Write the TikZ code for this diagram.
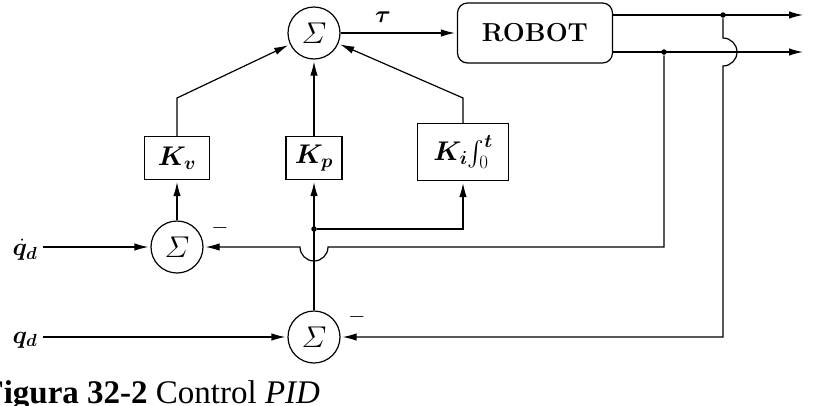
\documentclass[tikz,border=0pt]{standalone}
\usepackage{fix-cm}
\usepackage{amsmath,bm}
\usepackage{fontspec}
\newfontfamily\capfont{Liberation Serif}
\usetikzlibrary{arrows.meta}

\begin{document}
\begin{tikzpicture}[x=1pt, y=-1pt, line width=1.2pt,
    sum/.style={draw, circle, minimum size=52pt, inner sep=0pt, font=\fontsize{30}{32}\selectfont},
    gain/.style={draw, rectangle, inner sep=0pt, font=\fontsize{27}{30}\selectfont},
    sig/.style={-{Latex[length=14pt,width=7.5pt]}, shorten >=2pt},
    dot/.style={circle, fill, inner sep=0pt, minimum size=5.5pt},
    lbl/.style={font=\fontsize{25}{28}\selectfont, inner sep=0pt}]
        \useasboundingbox (0,0) rectangle (815,405);

        % Summing junctions
        \node[sum] (sT) at (314,33) {$\varSigma$};
        \node[sum] (sV) at (177,247) {$\varSigma$};
        \node[sum] (sP) at (314,337) {$\varSigma$};

        % Plant
        \node[draw, rounded corners=10pt, minimum width=155pt, minimum height=60pt,
              font=\fontsize{26}{30}\selectfont\bfseries] (robot) at (535,33) {ROBOT};

        % Gains
        \node[gain, minimum width=65pt, minimum height=43pt] (kv) at (177,158) {$\bm{K_v}$};
        \node[gain, minimum width=56pt, minimum height=43pt] (kp) at (314,158) {$\bm{K_p}$};
        \node[gain, minimum width=91pt, minimum height=57pt] (ki) at (463,152) {$\bm{K_i}\!\int_0^{\bm t}$};

        % Inputs
        \node[lbl] (lqd) at (25,250) {$\bm{\dot q_d}$};
        \node[lbl] (lq) at (25,340) {$\bm{q_d}$};

        % Branch points and bends
        \node[dot] (nq) at (723,15) {};
        \node[dot] (nqd) at (664,52) {};
        \node[dot] (np) at (314,229) {};
        \coordinate (bv) at (177,98);
        \coordinate (bi) at (463,98);
        \coordinate (jv) at (314,247);
        \coordinate (jq) at (723,52);
        \coordinate (fv) at (664,247);
        \coordinate (fp) at (723,337);
        \coordinate (outq) at (805,15);
        \coordinate (outqd) at (805,52);

        % Forward path
        \draw[sig] (sT) -- (robot);
        \node[font=\fontsize{24}{26}\selectfont] (tau) at (383,17) {$\bm{\tau}$};
        \draw[sig] (robot.east |- nq) -- (outq);
        \draw[sig] (robot.east |- nqd) -- (outqd);

        % Gains into the top sum
        \draw[sig] (kv) -- (bv) -- (sT);
        \draw[sig] (kp) -- (sT);
        \draw[sig] (ki) -- (bi) -- (sT);

        % Error signals
        \draw[sig] ([xshift=5pt]lqd.east |- sV) -- (sV);
        \draw[sig] ([xshift=5pt]lq.east |- sP) -- (sP);
        \draw[sig] (sV) -- (kv);
        \draw[sig] (sP) -- (kp);
        \draw[sig] (np) -| (ki);

        % Feedback with line jumps
        \draw[sig] (nqd) -- (fv) -- ([xshift=14pt]jv)
            arc[start angle=0, end angle=-180, radius=14pt] -- (sV);
        \draw[sig] (nq) -- ([yshift=14pt]jq)
            arc[start angle=90, end angle=-90, radius=14pt] -- (fp) -- (sP);

        % Minus signs
        \node[font=\fontsize{22}{24}\selectfont] (mV) at (220,228) {$-$};
        \node[font=\fontsize{22}{24}\selectfont] (mP) at (357,317) {$-$};

        % Caption
        \node[anchor=base west, inner sep=0pt, font=\capfont\fontsize{33}{36}\selectfont] (cap)
            at (-17,403) {\textbf{Figura 32-2} Control \textit{PID}};
    \end{tikzpicture}
\end{document}
